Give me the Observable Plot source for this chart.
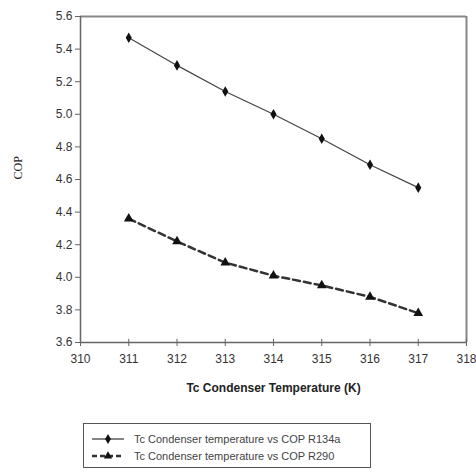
<!DOCTYPE html>
<html><head><meta charset="utf-8">
<script src="https://cdn.jsdelivr.net/npm/d3@7"></script>
<script src="https://cdn.jsdelivr.net/npm/@observablehq/plot@0.6"></script>
<style>
body{margin:0;background:#fff;font-family:"Liberation Sans Narrow","Liberation Sans",Arial,sans-serif;}
#legend{position:absolute;left:83px;top:423px;width:288px;height:45px;border:1px solid #555;box-sizing:border-box;font-size:11px;color:#444;}
#legend .row{display:flex;align-items:center;height:17px;margin-left:6px;}
#legend .row:first-child{margin-top:6px;}
#legend svg{margin-right:8px;}
</style></head>
<body>
<div id="chart"></div>
<div id="legend"></div>
<script>
const temps = [311, 312, 313, 314, 315, 316, 317];
const copR134a = [5.47, 5.30, 5.14, 5.00, 4.85, 4.69, 4.55];
const copR290 = [4.36, 4.22, 4.09, 4.01, 3.95, 3.88, 3.78];
const xTicks = [310, 311, 312, 313, 314, 315, 316, 317, 318];
const yTicks = [3.6, 3.8, 4.0, 4.2, 4.4, 4.6, 4.8, 5.0, 5.2, 5.4, 5.6];
const seriesNames = ["Tc Condenser temperature vs COP R134a", "Tc Condenser temperature vs COP R290"];

const r134 = temps.map((t, i) => ({t, v: copR134a[i]}));
const r290 = temps.map((t, i) => ({t, v: copR290[i]}));

const font = '"Liberation Sans Narrow","Liberation Sans",Arial,sans-serif';
const chart = Plot.plot({
  width: 476, height: 400,
  marginLeft: 80, marginRight: 10, marginTop: 16, marginBottom: 58,
  style: {fontFamily: font, fontSize: "12px", color: "#333", background: "#fff"},
  x: {domain: [310, 318], ticks: xTicks, tickFormat: d => d, label: null},
  y: {domain: [3.6, 5.6], ticks: yTicks, tickFormat: d => d.toFixed(1), label: null},
  marks: [
    Plot.ruleY([5.6], {stroke: "#888", strokeWidth: 2}),
    Plot.ruleX([318], {stroke: "#888", strokeWidth: 2}),
    Plot.ruleX([310], {stroke: "#666", strokeWidth: 1.5}),
    Plot.ruleY([3.6], {stroke: "#666", strokeWidth: 1.5}),
    Plot.axisY({ticks: yTicks, tickFormat: d => d.toFixed(1), tickSize: 5, tickPadding: 3, fontSize: 12, label: null, stroke: "#666"}),
    Plot.axisX({ticks: xTicks, tickFormat: d => d, tickSize: 4, tickPadding: 8, fontSize: 12, label: null, stroke: "#666"}),
    Plot.ruleX(xTicks, {x: d => d, y1: 3.6, y2: 3.62, stroke: "#666"}),
    Plot.line(r134, {x: "t", y: "v", stroke: "#444", strokeWidth: 1.2}),
    Plot.dot(r134, {x: "t", y: "v", symbol: "diamond", r: 3.2, fill: "#111", stroke: "none"}),
    Plot.line(r290, {x: "t", y: "v", stroke: "#333", strokeWidth: 2.5, strokeDasharray: "7,4"}),
    Plot.dot(r290, {x: "t", y: "v", symbol: "triangle", r: 3.6, fill: "#111", stroke: "none"}),
    Plot.text(["Tc Condenser Temperature (K)"], {frameAnchor: "bottom", lineAnchor: "middle", dy: 46, fontSize: 12, fill: "#222", fontWeight: "bold", text: d => d}),
    Plot.text(["COP"], {frameAnchor: "left", dx: -62, rotate: -90, fontSize: 12, fill: "#222", fontFamily: '"Liberation Serif",serif', text: d => d})
  ]
});
document.getElementById("chart").appendChild(chart);

const legend = document.getElementById("legend");
const styles = [
  {dash: null, w: 1.2, sym: d3.symbolDiamond},
  {dash: "5,3", w: 2.5, sym: d3.symbolTriangle}
];
seriesNames.forEach((name, i) => {
  const row = document.createElement("div");
  row.className = "row";
  const s = styles[i];
  const sv = d3.create("svg").attr("width", 36).attr("height", 12);
  sv.append("line").attr("x1", 2).attr("x2", 34).attr("y1", 6).attr("y2", 6)
    .attr("stroke", "#333").attr("stroke-width", s.w).attr("stroke-dasharray", s.dash);
  sv.append("path").attr("d", d3.symbol(s.sym, 30)()).attr("transform", "translate(18,6)").attr("fill", "#111");
  row.appendChild(sv.node());
  const sp = document.createElement("span");
  sp.textContent = name;
  row.appendChild(sp);
  legend.appendChild(row);
});
</script>
</body></html>
